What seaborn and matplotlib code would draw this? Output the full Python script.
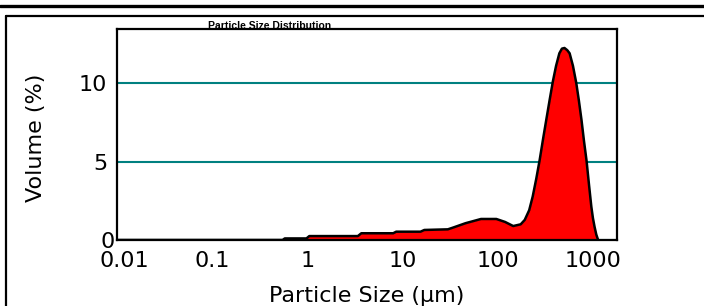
import matplotlib.pyplot as plt
import pandas as pd
import seaborn as sns
from matplotlib.lines import Line2D
from matplotlib.transforms import ScaledTranslation

# particle size (um) vs volume (%)
sizes_um = [0.01, 0.55, 0.58, 0.98, 1.05, 3.4, 3.7, 8.0, 8.6, 15.5, 17, 30, 34, 46,
            67, 97, 120, 146, 175, 193, 215, 234, 255, 277, 300, 325, 352, 381, 412,
            446, 475, 505, 540, 572, 620, 672, 715, 762, 810, 862, 915, 967, 1005,
            1045, 1090, 1140]
volume_pct = [0, 0, 0.1, 0.1, 0.25, 0.25, 0.43, 0.43, 0.53, 0.53, 0.64, 0.68, 0.79, 1.07,
              1.34, 1.34, 1.15, 0.89, 1.0, 1.28, 1.9, 2.77, 3.9, 5.1, 6.4, 7.66, 8.9, 10.1, 11.1,
              11.9, 12.2, 12.24, 12.1, 11.9, 11.1, 10.0, 8.9, 7.66, 6.3, 5.04, 3.5, 2.13, 1.4,
              0.85, 0.35, 0]

x_ticks = [0.01, 0.1, 1, 10, 100, 1000]
x_tick_labels = ['0.01', '0.1', '1', '10', '100', '1000']
y_ticks = [0, 5, 10]

df = pd.DataFrame({'size': sizes_um, 'volume': volume_pct})

sns.set_style('white')
plt.rcParams['font.family'] = ['DejaVu Sans']

fig = plt.figure(figsize=(7.04, 3.06), dpi=100)
ax = fig.add_axes([117 / 704, 66 / 306, 500 / 704, 211 / 306])

ax.set_xscale('log')
ax.fill_between(df['size'], df['volume'], color='#ff0000', zorder=2, linewidth=0)
sns.lineplot(data=df, x='size', y='volume', ax=ax, color='black', linewidth=1.8,
             zorder=3, sort=False)

ax.set_xlim(0.01, 1800)
ax.set_ylim(0, 13.45)
ax.set_xticks(x_ticks)
ax.set_xticklabels(x_tick_labels)
ax.set_yticks(y_ticks)
ax.minorticks_off()
ax.tick_params(axis='both', length=0, labelsize=16, colors='black')
ax.tick_params(axis='x', pad=8)
ax.tick_params(axis='y', pad=7)

ax.yaxis.grid(True, color='#008080', linewidth=1.5, zorder=1)
ax.xaxis.grid(False)
ax.set_axisbelow(True)
for spine in ax.spines.values():
    spine.set_color('black')
    spine.set_linewidth(1.6)
    spine.set_zorder(4)

ax.set_xlabel('Particle Size (µm)', fontsize=16, color='black')
ax.set_ylabel('Volume (%)', fontsize=16, color='black')
ax.xaxis.set_label_coords(0.5, -0.218)
ax.yaxis.set_label_coords(-0.142, 0.486)

# the "0" and "0.01" labels sit slightly to the right in the original
fig.canvas.draw()
lab0 = ax.yaxis.get_major_ticks()[0].label1
lab0.set_transform(lab0.get_transform() + ScaledTranslation(0.07, 0, fig.dpi_scale_trans))
lab001 = ax.xaxis.get_major_ticks()[0].label1
lab001.set_transform(lab001.get_transform() + ScaledTranslation(0.07, 0, fig.dpi_scale_trans))

fig.text(270 / 704, 1 - 29 / 306, 'Particle Size Distribution', fontsize=7.5,
         family=['Liberation Sans', 'DejaVu Sans'], fontweight='bold',
         ha='center', va='baseline', color='black', zorder=5)

# outer frame of the report panel
fig.add_artist(Line2D([0, 1], [1 - 6 / 306] * 2, color='black', linewidth=2.4,
                      transform=fig.transFigure))
fig.add_artist(Line2D([5.5 / 704, 1], [1 - 15.5 / 306] * 2, color='black', linewidth=1.6,
                      transform=fig.transFigure))
fig.add_artist(Line2D([5.5 / 704] * 2, [0, 1 - 15.5 / 306], color='black', linewidth=1.6,
                      transform=fig.transFigure))

fig.savefig('out.png', dpi=100)
